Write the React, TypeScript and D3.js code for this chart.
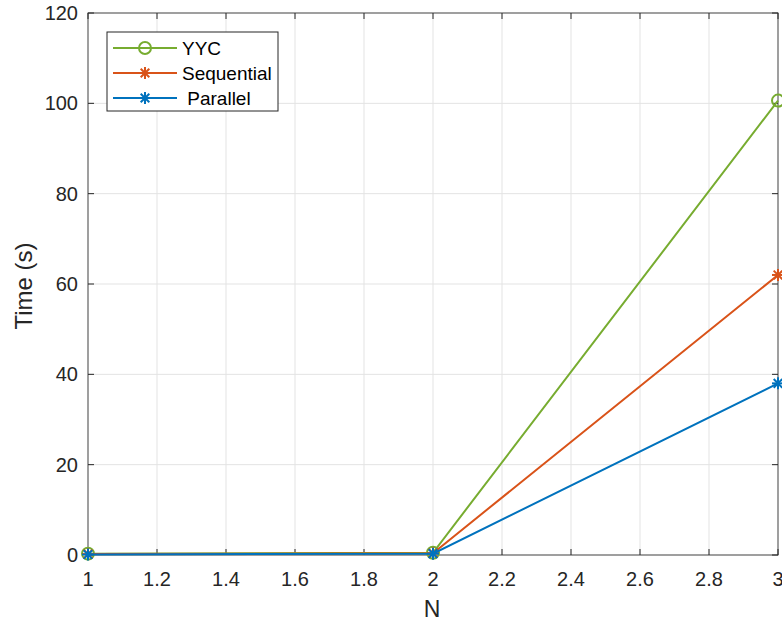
import React from "react";
import * as d3 from "d3";

const nValues = [1, 2, 3];
const yycTimes = [0.3, 0.5, 100.6];
const sequentialTimes = [0.2, 0.4, 62];
const parallelTimes = [0.1, 0.3, 38];
const xTicks = [1, 1.2, 1.4, 1.6, 1.8, 2, 2.2, 2.4, 2.6, 2.8, 3];
const yTicks = [0, 20, 40, 60, 80, 100, 120];
const seriesNames = ["YYC", "Sequential", " Parallel"];
const seriesColors = ["#77AC30", "#D95319", "#0072BD"];
const seriesMarkers = ["circle", "star", "star"];

const W = 782;
const H = 623;
const M = { left: 88, right: 778, top: 13, bottom: 555 };
const FONT = "'Liberation Sans', Arial, Helvetica, sans-serif";

function Marker({ type, x, y, color }: { type: string; x: number; y: number; color: string }) {
  if (type === "circle") {
    return <circle cx={x} cy={y} r={6} fill="none" stroke={color} strokeWidth={2} />;
  }
  const r = 6;
  const d = r * 0.72;
  return (
    <g stroke={color} strokeWidth={2}>
      <line x1={x - r} y1={y} x2={x + r} y2={y} />
      <line x1={x} y1={y - r} x2={x} y2={y + r} />
      <line x1={x - d} y1={y - d} x2={x + d} y2={y + d} />
      <line x1={x - d} y1={y + d} x2={x + d} y2={y - d} />
    </g>
  );
}

export default function App() {
  const x = d3.scaleLinear().domain([1, 3]).range([M.left, M.right]);
  const y = d3.scaleLinear().domain([0, 120]).range([M.bottom, M.top]);
  const series = [yycTimes, sequentialTimes, parallelTimes];
  const line = d3
    .line<number>()
    .x((_, i) => x(nValues[i]))
    .y((d) => y(d));
  const axisColor = "#262626";
  const gridColor = "#e3e3e3";
  const legendX = 107;
  const legendY = 32;
  const legendW = 171;
  const legendH = 79;
  const order = [0, 1, 2];
  return (
    <div style={{ position: "absolute", left: 0, top: 0 }}>
      <svg width={W} height={H} style={{ display: "block", background: "#fff" }} fontFamily={FONT}>
        <rect x={0} y={0} width={W} height={H} fill="#fff" />
        {/* grid */}
        {xTicks.map((t) => (
          <line key={"gx" + t} x1={x(t)} x2={x(t)} y1={M.top} y2={M.bottom} stroke={gridColor} strokeWidth={1} />
        ))}
        {yTicks.map((t) => (
          <line key={"gy" + t} x1={M.left} x2={M.right} y1={y(t)} y2={y(t)} stroke={gridColor} strokeWidth={1} />
        ))}
        {/* box */}
        <rect x={M.left} y={M.top} width={M.right - M.left} height={M.bottom - M.top} fill="none" stroke={axisColor} strokeWidth={1} opacity={0.8} />
        {/* ticks */}
        {xTicks.map((t) => (
          <g key={"tx" + t}>
            <line x1={x(t)} x2={x(t)} y1={M.bottom} y2={M.bottom - 6} stroke={axisColor} />
            <line x1={x(t)} x2={x(t)} y1={M.top} y2={M.top + 6} stroke={axisColor} />
            <text x={x(t)} y={M.bottom + 31} textAnchor="middle" fontSize={20} fill={axisColor}>
              {String(t)}
            </text>
          </g>
        ))}
        {yTicks.map((t) => (
          <g key={"ty" + t}>
            <line x1={M.left} x2={M.left + 6} y1={y(t)} y2={y(t)} stroke={axisColor} />
            <line x1={M.right} x2={M.right - 6} y1={y(t)} y2={y(t)} stroke={axisColor} />
            <text x={M.left - 10} y={y(t) + 7} textAnchor="end" fontSize={20} fill={axisColor}>
              {String(t)}
            </text>
          </g>
        ))}
        {/* axis labels */}
        <text x={(M.left + M.right) / 2 - 1} y={617} textAnchor="middle" fontSize={23} fill={axisColor}>
          N
        </text>
        <text
          transform={`translate(32, ${(M.top + M.bottom) / 2 + 2}) rotate(-90)`}
          textAnchor="middle"
          fontSize={24}
          fill={axisColor}
        >
          Time (s)
        </text>
        {/* series */}
        {series.map((vals, si) => (
          <g key={"s" + si}>
            <path d={line(vals) || ""} fill="none" stroke={seriesColors[si]} strokeWidth={2} />
            {vals.map((v, i) => (
              <Marker key={i} type={seriesMarkers[si]} x={x(nValues[i])} y={y(v)} color={seriesColors[si]} />
            ))}
          </g>
        ))}
        {/* legend */}
        <rect x={legendX} y={legendY} width={legendW} height={legendH} fill="#fff" stroke={axisColor} strokeWidth={1} />
        {order.map((si) => {
          const ly = legendY + 16 + si * 25;
          return (
            <g key={"l" + si}>
              <line x1={113} x2={177} y1={ly} y2={ly} stroke={seriesColors[si]} strokeWidth={2} />
              <Marker type={seriesMarkers[si]} x={145} y={ly} color={seriesColors[si]} />
              <text x={182} y={ly + 7} fontSize={19} fill="#000">
                {seriesNames[si].replace(/^ /, "\u00a0")}
              </text>
            </g>
          );
        })}
      </svg>
    </div>
  );
}
